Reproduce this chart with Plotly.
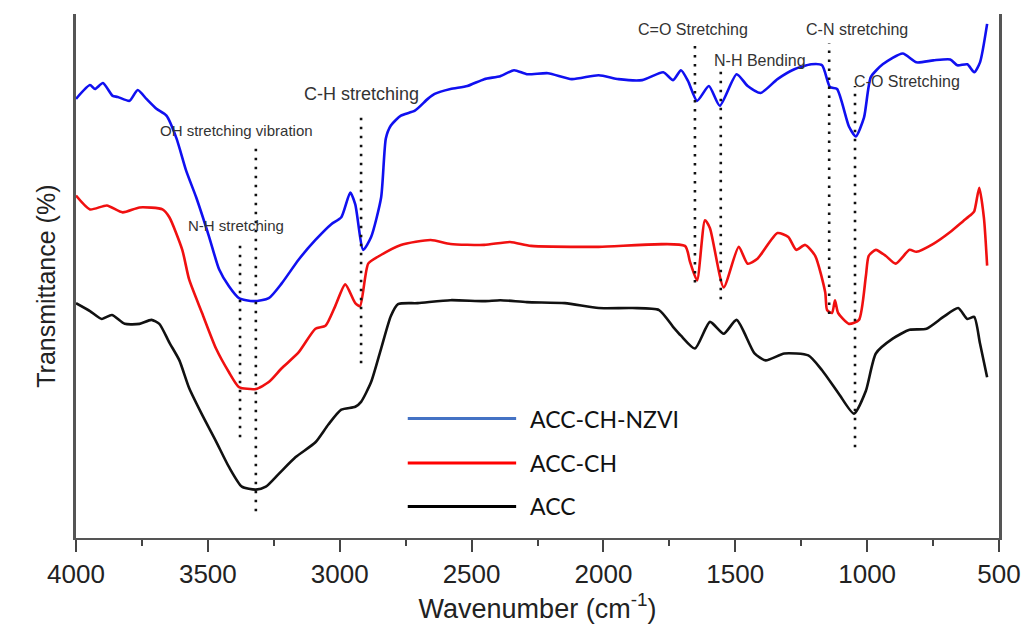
import plotly.graph_objects as go

# ---------------- data ----------------
# y is transmittance in arbitrary units (spectra are offset)
wn_nzvi = [4000, 3947, 3928, 3898, 3861, 3842, 3797, 3766, 3733, 3695, 3657, 3619, 3582, 3544,
           3495, 3457, 3420, 3382, 3326, 3269, 3220, 3156, 3092, 3032, 2994, 2960, 2941, 2911,
           2881, 2843, 2825, 2806, 2768, 2715, 2666, 2640, 2580, 2516, 2452, 2391, 2339, 2290,
           2210, 2120, 2018, 1943, 1853, 1773, 1736, 1706, 1679, 1645, 1600, 1559, 1495, 1453,
           1404, 1340, 1276, 1212, 1171, 1141, 1114, 1069, 1043, 1012, 986, 941, 865, 813, 749,
           685, 658, 620, 594, 572, 545]
t_nzvi = [445, 459, 455, 461, 448, 447, 443, 454, 445, 435, 428, 405, 372, 345,
          305, 272, 255, 243, 240, 243, 258, 282, 302, 318, 325, 350, 338, 292,
          305, 345, 405, 418, 428, 433, 445, 450, 455, 458, 465, 468, 474, 470,
          471, 465, 469, 465, 464, 472, 464, 474, 463, 443, 458, 438, 470, 458,
          451, 465, 475, 480, 479, 457, 455, 417, 407, 426, 467, 480, 491, 482, 484,
          485, 479, 480, 472, 482, 521]

wn_ch = [4000, 3947, 3883, 3823, 3759, 3672, 3646, 3597, 3571, 3522, 3469, 3420, 3382, 3318,
         3269, 3220, 3156, 3092, 3054, 3017, 2979, 2941, 2923, 2892, 2855, 2768, 2655, 2580,
         2452, 2354, 2275, 2018, 1691, 1672, 1645, 1615, 1596, 1544, 1487, 1453, 1416, 1340,
         1299, 1269, 1235, 1197, 1159, 1152, 1133, 1122, 1110, 1069, 1031, 1005, 994, 967,
         930, 892, 839, 813, 749, 685, 636, 609, 594, 575, 557, 545]
t_ch = [347, 333, 337, 330, 335, 333, 325, 292, 262, 228, 192, 168, 153, 151,
        158, 172, 188, 212, 215, 235, 257, 238, 235, 278, 285, 297, 302, 298,
        297, 300, 296, 295, 296, 280, 261, 322, 314, 254, 295, 278, 283, 309,
        305, 292, 297, 286, 249, 231, 228, 241, 228, 217, 221, 265, 286, 292,
        286, 278, 292, 290, 298, 310, 321, 327, 331, 355, 324, 276]

wn_acc = [4000, 3947, 3902, 3864, 3815, 3759, 3714, 3684, 3646, 3608, 3571, 3522, 3469, 3420,
          3371, 3318, 3280, 3231, 3167, 3092, 3043, 2994, 2941, 2919, 2881, 2843, 2806, 2779,
          2704, 2580, 2452, 2391, 2290, 2146, 2018, 1890, 1789, 1736, 1706, 1653, 1596, 1544,
          1495, 1427, 1385, 1314, 1223, 1171, 1107, 1050, 1005, 967, 903, 839, 775, 711, 655,
          620, 594, 572, 545]
t_acc = [238, 230, 222, 226, 217, 217, 221, 217, 198, 180, 152, 125, 98, 72,
         52, 49, 52, 65, 82, 97, 115, 130, 133, 138, 158, 192, 225, 237,
         238, 241, 240, 241, 239, 238, 233, 233, 231, 214, 205, 192, 219, 207,
         221, 187, 180, 187, 185, 170, 146, 126, 149, 187, 202, 211, 212, 224, 233,
         222, 224, 197, 163]

series_names = ["ACC-CH-NZVI", "ACC-CH", "ACC"]
series_colors = ["#1010F0", "#F01010", "#111111"]
legend_colors = ["#4472C4", "#FF0000", "#000000"]

# band assignments: label, wavenumber of dotted line
band_labels = ["OH stretching vibration", "N-H stretching", "C-H stretching",
               "C=O Stretching", "N-H Bending", "C-N stretching", "C-O Stretching"]
band_wn = [3318, 3378, 2919, 1653, 1555, 1144, 1046]

x_ticks = [4000, 3500, 3000, 2500, 2000, 1500, 1000, 500]

# ---------------- layout helpers (positions / styles) ----------------
line_y0 = [27, 102, 177, 259, 242, 227, 92]
line_y1 = [395, 302, 432, 501, 475, 501, 458]
label_x = [3393, 3393, 2919, 1660, 1408, 1039, 847]
label_y = [413, 317, 450, 515, 484, 515, 463]
label_size = [15, 15, 18, 16, 16, 16, 16]

fig = go.Figure()
for wn, t, name, col in zip([wn_nzvi, wn_ch, wn_acc], [t_nzvi, t_ch, t_acc],
                            series_names, series_colors):
    fig.add_trace(go.Scatter(x=wn, y=t, mode="lines", name=name,
                             line=dict(color=col, width=2.6, shape="spline", smoothing=0.6),
                             showlegend=False))

shapes = []
annotations = []
for wn, y0, y1 in zip(band_wn, line_y0, line_y1):
    shapes.append(dict(type="line", xref="x", yref="y", x0=wn, x1=wn, y0=y0, y1=y1,
                       line=dict(color="#111111", width=2.6, dash="2.5px,6.5px")))
for txt, x, y, s in zip(band_labels, label_x, label_y, label_size):
    annotations.append(dict(text=txt, x=x, y=y, xref="x", yref="y", showarrow=False,
                            font=dict(family="Liberation Sans, Arial", size=s, color="#333333")))

# custom legend
leg_y = [121, 76, 32]
for name, col, y in zip(series_names, legend_colors, leg_y):
    shapes.append(dict(type="line", xref="x", yref="y", x0=2742, x1=2331, y0=y, y1=y,
                       line=dict(color=col, width=3)))
    annotations.append(dict(text=name, x=2286, y=y, xref="x", yref="y", showarrow=False,
                            xanchor="left", font=dict(family="Lato", size=23, color="#111111")))

# y-axis title
annotations.append(dict(text="Transmittance (%)", textangle=-90, xref="paper", yref="paper",
                        x=-0.0495, y=0.48, showarrow=False,
                        font=dict(family="Liberation Sans, Arial", size=25, color="#222222")))

fig.update_layout(
    width=1033, height=628,
    margin=dict(l=76, r=28, t=14, b=83),
    paper_bgcolor="white", plot_bgcolor="white",
    shapes=shapes, annotations=annotations,
    xaxis=dict(range=[4000, 500], tickvals=x_ticks, ticktext=[str(v) for v in x_ticks],
               showgrid=False, zeroline=False, showline=True, linecolor="#555555", linewidth=2,
               ticks="outside", ticklen=12, tickwidth=2, tickcolor="#444444",
               minor=dict(dtick=250, tick0=500, ticks="outside", ticklen=6, tickwidth=2,
                          tickcolor="#444444"),
               tickfont=dict(family="Liberation Sans, Arial", size=26, color="#222222"),
               title=dict(text="Wavenumber (cm<sup>-1</sup>)", standoff=8,
                          font=dict(family="Liberation Sans, Arial", size=27, color="#222222"))),
    yaxis=dict(range=[0, 531], showticklabels=False, showgrid=False, zeroline=False,
               showline=True, mirror=True, linecolor="#555555", linewidth=2.5, ticks=""),
)

fig.write_html("out.html")
